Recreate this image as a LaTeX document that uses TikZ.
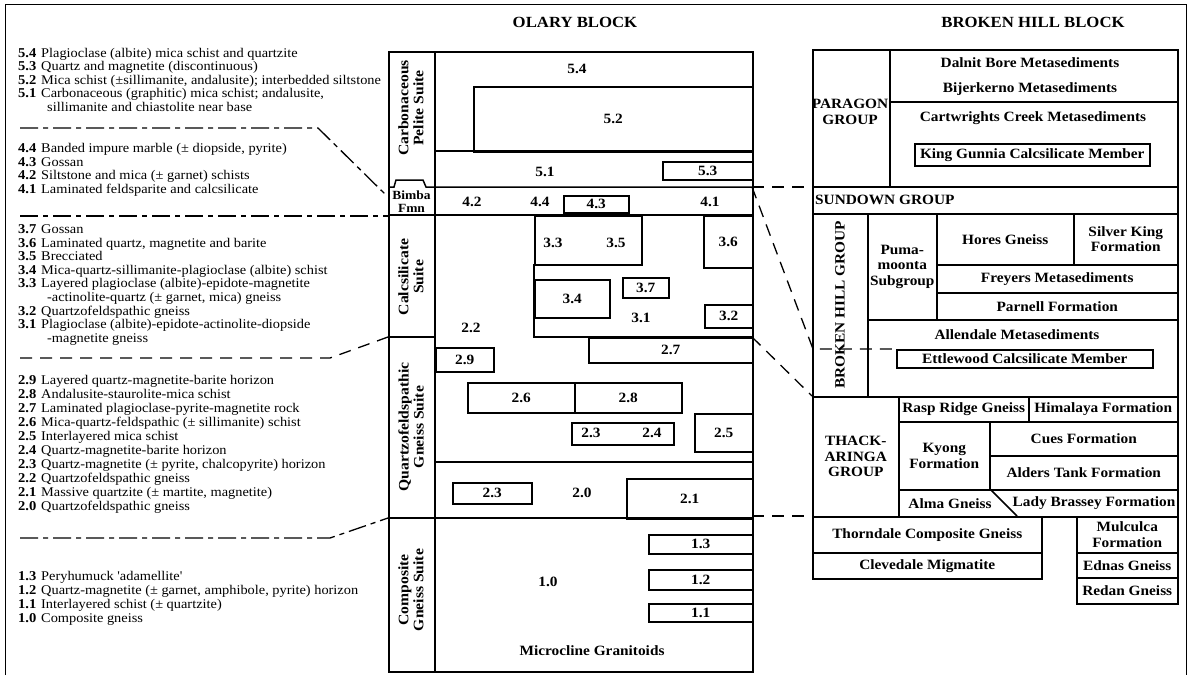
\documentclass[tikz,border=0pt]{standalone}
\usepackage{fontspec}
\setmainfont[FakeStretch=1.08]{Liberation Serif}
\newcommand\bx[6]{\node[bxs,minimum width={(#4-#2)*1pt},minimum height={(#5-#3)*1pt}] (#1) at (#2,#3) {#6};}
\newcommand\lgl[4]{\node[lgn] (#1n) at (18,#2) {#3}; \node[lgt] (#1t) at (41,#2) {#4};}
\begin{document}
\begin{tikzpicture}[x=1pt,y=-1pt,
  ln/.style={line width=1.5pt},
  bxs/.style={draw,line width=1.5pt,inner sep=0pt,anchor=north west,font=\fontsize{14.2}{15.5}\selectfont\bfseries,align=center},
  nm/.style={font=\fontsize{14.2}{15.5}\selectfont\bfseries,inner sep=0pt,align=center},
  suite/.style={font=\fontsize{14.5}{15}\selectfont\bfseries,inner sep=0pt,align=center,rotate=90},
  lgn/.style={anchor=base west,inner sep=0pt,font=\fontsize{13.5}{13.6}\selectfont\bfseries},
  lgt/.style={anchor=base west,inner sep=0pt,font=\fontsize{13.3}{13.6}\selectfont},
  ttl/.style={font=\fontsize{15.5}{16}\selectfont\bfseries,inner sep=0pt},
  dd/.style={line width=1.3pt,dash pattern=on 18pt off 5pt on 5pt off 5pt},
  ds/.style={line width=1.3pt,dash pattern=on 12pt off 8pt}]
\useasboundingbox (0,0) rectangle (1189,675);
% outer frame
\draw[line width=1pt] (5,675) -- (5,4) -- (1186,4) -- (1186,675);
% titles
\node[ttl] (t1) at (575,22) {OLARY BLOCK};
\node[ttl] (t2) at (1033,22) {BROKEN HILL BLOCK};
% ---------------- legend
\lgl{a1}{57}{5.4}{Plagioclase (albite) mica schist and quartzite}
\lgl{a2}{70.5}{5.3}{Quartz and magnetite (discontinuous)}
\lgl{a3}{84}{5.2}{Mica schist (±sillimanite, andalusite); interbedded siltstone}
\lgl{a4}{97.5}{5.1}{Carbonaceous (graphitic) mica schist; andalusite,}
\node[lgt] (a5) at (47,111) {sillimanite and chiastolite near base};
\lgl{b1}{152.5}{4.4}{Banded impure marble (± diopside, pyrite)}
\lgl{b2}{166}{4.3}{Gossan}
\lgl{b3}{179.5}{4.2}{Siltstone and mica (± garnet) schists}
\lgl{b4}{193}{4.1}{Laminated feldsparite and calcsilicate}
\lgl{c1}{233.5}{3.7}{Gossan}
\lgl{c2}{247.1}{3.6}{Laminated quartz, magnetite and barite}
\lgl{c3}{260.7}{3.5}{Brecciated}
\lgl{c4}{274.3}{3.4}{Mica-quartz-sillimanite-plagioclase (albite) schist}
\lgl{c5}{287.9}{3.3}{Layered plagioclase (albite)-epidote-magnetite}
\node[lgt] (c6) at (47,301.5) {-actinolite-quartz (± garnet, mica) gneiss};
\lgl{c7}{315.1}{3.2}{Quartzofeldspathic gneiss}
\lgl{c8}{328.7}{3.1}{Plagioclase (albite)-epidote-actinolite-diopside}
\node[lgt] (c9) at (47,342.3) {-magnetite gneiss};
\lgl{d1}{384.5}{2.9}{Layered quartz-magnetite-barite horizon}
\lgl{d2}{398.5}{2.8}{Andalusite-staurolite-mica schist}
\lgl{d3}{412.5}{2.7}{Laminated plagioclase-pyrite-magnetite rock}
\lgl{d4}{426.5}{2.6}{Mica-quartz-feldspathic (± sillimanite) schist}
\lgl{d5}{440.5}{2.5}{Interlayered mica schist}
\lgl{d6}{454.5}{2.4}{Quartz-magnetite-barite horizon}
\lgl{d7}{468.5}{2.3}{Quartz-magnetite (± pyrite, chalcopyrite) horizon}
\lgl{d8}{482.5}{2.2}{Quartzofeldspathic gneiss}
\lgl{d9}{496.5}{2.1}{Massive quartzite (± martite, magnetite)}
\lgl{d0}{510.5}{2.0}{Quartzofeldspathic gneiss}
\lgl{e1}{580.5}{1.3}{Peryhumuck {\addfontfeatures{Ligatures=TeXOff}'adamellite'}}
\lgl{e2}{594.5}{1.2}{Quartz-magnetite (± garnet, amphibole, pyrite) horizon}
\lgl{e3}{608.5}{1.1}{Interlayered schist (± quartzite)}
\lgl{e4}{622.5}{1.0}{Composite gneiss}
% ---------------- Olary block
\bx{olary}{388}{51}{752}{671}{}
\draw[ln] (435,51) -- (435,671);
\draw[ln] (388,187) -- (394,187) -- (396,180) -- (423,180) -- (426,187) -- (752,187);
\draw[ln] (388,215) -- (752,215);
\draw[ln] (388,337) -- (435,337);
\draw[ln] (388,518) -- (752,518);
\draw[ln] (435,151) -- (752,151);
\draw[ln] (435,462) -- (752,462);
\draw[ln] (534,264) -- (534,337) -- (752,337);
\node[suite] (s5) at (411,108) {Carbonaceous\\Pelite Suite};
\node[font=\fontsize{12.5}{13}\selectfont\bfseries,inner sep=0pt,align=center] (bimba) at (411.5,202) {Bimba\\Fmn};
\node[suite] (s3) at (411,277) {Calcsilicate\\Suite};
\node[suite] (s2) at (411,427) {Quartzofeldspathic\\Gneiss Suite};
\node[suite] (s1) at (411,590) {Composite\\Gneiss Suite};
\node[nm] (n54) at (577,69) {5.4};
\bx{b52}{473}{86}{752}{151}{5.2}
\node[nm] (n51) at (545,172) {5.1};
\bx{b53}{662}{161}{752}{179}{5.3}
\node[nm] (n42) at (472,202) {4.2};
\node[nm] (n44) at (540,202) {4.4};
\bx{b43}{563}{195}{628}{212}{4.3}
\node[nm] (n41) at (710,202) {4.1};
\bx{b335}{534}{215}{641}{264}{}
\node[nm] (n33) at (553,243) {3.3};
\node[nm] (n35) at (616,243) {3.5};
\bx{b36}{703}{215}{752}{267}{3.6}
\bx{b34}{534}{279}{609}{317}{3.4}
\bx{b37}{622}{277}{668}{297}{3.7}
\bx{b32}{704}{304}{752}{327}{3.2}
\node[nm] (n31) at (641,318) {3.1};
\node[nm] (n22) at (471,328) {2.2};
\bx{b29}{435}{347}{493}{371}{2.9}
\bx{b27}{588}{337}{752}{362}{2.7}
\bx{b26}{467}{382}{574}{412}{2.6}
\bx{b28}{574}{382}{681}{412}{2.8}
\bx{b234}{571}{422}{673}{444}{}
\node[nm] (n23a) at (591,433) {2.3};
\node[nm] (n24) at (652,433) {2.4};
\bx{b25}{694}{413}{752}{451}{2.5}
\bx{b23}{452}{482}{531}{503}{2.3}
\node[nm] (n20) at (582,493) {2.0};
\bx{b21}{626}{478}{752}{518}{2.1}
\bx{b13}{648}{534}{752}{553}{1.3}
\bx{b12}{648}{569}{752}{589}{1.2}
\bx{b11}{648}{603}{752}{621}{1.1}
\node[nm] (n10) at (548,582) {1.0};
\node[nm] (micro) at (592,651) {Microcline Granitoids};
% ---------------- Broken Hill block
\bx{paragon}{812}{49}{889}{186}{}
\node[nm] (paragonl) at (850,112) {PARAGON\\GROUP};
\bx{dalnit}{889}{49}{1177}{101}{}
\node[nm] (dal) at (1030,63) {Dalnit Bore Metasediments};
\node[nm] (bij) at (1030,89) {Bijerkerno Metasediments};
\bx{cart}{889}{101}{1177}{186}{}
\node[nm] (cartl) at (1033,118) {Cartwrights Creek Metasediments};
\bx{king}{914}{143}{1149}{165}{King Gunnia Calcsilicate Member}
\bx{sundown}{812}{186}{1177}{213}{}
\node[nm,anchor=west] (sundl) at (815,200) {SUNDOWN GROUP};
\bx{bhg}{812}{213}{867}{396}{}
\node[nm,rotate=90] (bhgl) at (840,305) {BROKEN HILL GROUP};
\bx{puma}{867}{213}{936}{319}{Puma-\\moonta\\Subgroup}
\bx{hores}{936}{213}{1073}{264}{Hores Gneiss}
\bx{silver}{1073}{213}{1177}{264}{Silver King\\Formation}
\bx{freyers}{936}{264}{1177}{292}{Freyers Metasediments}
\bx{parnell}{936}{292}{1177}{319}{Parnell Formation}
\bx{allen}{867}{319}{1177}{396}{}
\node[nm] (allenl) at (1017,335) {Allendale Metasediments};
\bx{ettle}{896}{349}{1152}{367}{Ettlewood Calcsilicate Member}
\bx{thack}{812}{396}{898}{516}{THACK-\\ARINGA\\GROUP}
\bx{rasp}{898}{396}{1028}{421}{Rasp Ridge Gneiss}
\bx{hima}{1028}{396}{1177}{421}{Himalaya Formation}
\bx{kyong}{898}{421}{989}{489}{Kyong\\Formation}
\bx{cues}{989}{421}{1177}{455}{Cues Formation}
\bx{alders}{989}{455}{1177}{489}{Alders Tank Formation}
\bx{almarow}{898}{489}{1177}{516}{}
\draw[ln] (990,489) -- (1017,516);
\node[nm] (alma) at (950,504) {Alma Gneiss};
\node[nm] (lady) at (1094,503) {Lady Brassey Formation};
\bx{thorn}{812}{516}{1041}{552}{Thorndale Composite Gneiss}
\bx{cleve}{812}{552}{1041}{578}{Clevedale Migmatite}
\bx{mulc}{1076}{516}{1177}{552}{Mulculca\\Formation}
\bx{ednas}{1076}{552}{1177}{577}{Ednas Gneiss}
\bx{redan}{1076}{577}{1177}{603}{Redan Gneiss}
% ---------------- connectors
\coordinate (p1a) at (20,128); \coordinate (p1b) at (318,128); \coordinate (p1c) at (387,196);
\coordinate (p2a) at (20,216); \coordinate (p2b) at (388,216);
\coordinate (p3a) at (20,358); \coordinate (p3b) at (330,358); \coordinate (p3c) at (388,337);
\coordinate (p4a) at (20,538); \coordinate (p4b) at (330,538); \coordinate (p4c) at (388,518);
\coordinate (r1a) at (752,187); \coordinate (r1b) at (812,187);
\coordinate (r2b) at (813,349); \coordinate (r2c) at (896,349);
\coordinate (r3a) at (752,337); \coordinate (r3b) at (812,396);
\coordinate (r4a) at (752,516); \coordinate (r4b) at (812,516);
\draw[dd] (p1a) -- (p1b) -- (p1c);
\draw[dd] (p2a) -- (p2b);
\draw[ds] (p3a) -- (p3b) -- (p3c);
\draw[dd] (p4a) -- (p4b) -- (p4c);
\draw[ds] (r1a) -- (r1b);
\draw[ds] (r1a) -- (r2b) -- (r2c);
\draw[ds] (r3a) -- (r3b);
\draw[ds] (r4a) -- (r4b);
\end{tikzpicture}
\end{document}
